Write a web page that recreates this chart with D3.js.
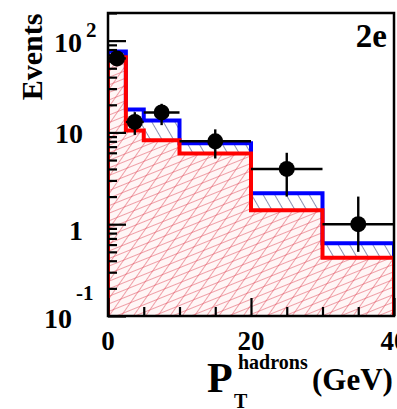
<!DOCTYPE html>
<html>
<head>
<meta charset="utf-8">
<script src="https://cdn.jsdelivr.net/npm/d3@7"></script>
<style>
  body { margin: 0; background: #fff; }
  text { font-family: "Liberation Serif", "DejaVu Serif", serif; font-weight: bold; fill: #000; }
</style>
</head>
<body>
<svg id="chart" width="397" height="409"></svg>
<script>
// bin edges in GeV
const binEdges = [0, 2.5, 5, 10, 20, 30, 40];
// total expectation (blue) and background (red)
const totalValues = [76, 17.8, 13.5, 7.6, 2.17, 0.62];
const backgroundValues = [66, 10.5, 8.2, 5.9, 1.42, 0.43];
// observed data
const dataValues = [64, 13, 16.5, 8, 4, 1];
const dataErrLow = [8, 3.6, 4.5, 2.8, 2, 0.5];
const dataErrHigh = [8, 3.6, 4, 2.8, 2, 1];
const xTicks = [0, 20, 40];

const svg = d3.select('#chart'),
  margin = {top: 13, right: 3, bottom: 93, left: 108},
  width = +svg.attr('width') - margin.left - margin.right,
  height = +svg.attr('height') - margin.top - margin.bottom;

const x = d3.scaleLinear().domain([0, 40]).range([margin.left, margin.left + width]),
  y = d3.scaleLog().domain([0.1, 200]).range([margin.top + height, margin.top]);
const bottom = margin.top + height;

const defs = svg.append('defs');
defs.append('clipPath').attr('id', 'plotclip')
  .append('rect').attr('x', margin.left).attr('y', margin.top).attr('width', width).attr('height', height);

function hatch(id, angle, spacing, color, sw) {
  const p = defs.append('pattern').attr('id', id)
    .attr('patternUnits', 'userSpaceOnUse')
    .attr('width', spacing).attr('height', spacing)
    .attr('patternTransform', 'rotate(' + angle + ')');
  p.append('line').attr('x1', 0).attr('y1', 0).attr('x2', 0).attr('y2', spacing)
    .attr('stroke', color).attr('stroke-width', sw);
}
hatch('redA', 68, 7, '#e04858', 1);
hatch('redB', 35, 10, '#e04858', 1);
hatch('blueH', -30, 10, '#4c5688', 1.3);

// step data: one point per bin plus the closing edge
function steps(vals) {
  const pts = vals.map((v, i) => ({e: binEdges[i], v: v}));
  pts.push({e: binEdges[binEdges.length - 1], v: vals[vals.length - 1]});
  return pts;
}
const bkg = steps(backgroundValues), tot = steps(totalValues);

const g = svg.append('g').attr('clip-path', 'url(#plotclip)');

const redArea = d3.area().curve(d3.curveStepAfter)
  .x(d => x(d.e)).y0(bottom).y1(d => y(d.v));
g.append('path').datum(bkg).attr('d', redArea).attr('fill', '#fff6f6');
g.append('path').datum(bkg).attr('d', redArea).attr('fill', 'url(#redA)');
g.append('path').datum(bkg).attr('d', redArea).attr('fill', 'url(#redB)');

const bandArea = d3.area().curve(d3.curveStepAfter)
  .x(d => x(d.e)).y0((d, i) => y(bkg[i].v)).y1(d => y(d.v));
g.append('path').datum(tot).attr('d', bandArea).attr('fill', 'url(#blueH)');

function outline(pts) {
  const full = [{e: pts[0].e, v: 0.01}].concat(pts);
  full.push({e: pts[pts.length - 1].e, v: 0.01});
  return full;
}
const stepLine = d3.line().curve(d3.curveStepAfter).x(d => x(d.e)).y(d => y(Math.max(d.v, 0.05)));
g.append('path').datum(outline(tot)).attr('d', stepLine)
  .attr('fill', 'none').attr('stroke', '#0000ff').attr('stroke-width', 4);
g.append('path').datum(outline(bkg)).attr('d', stepLine)
  .attr('fill', 'none').attr('stroke', '#ff0000').attr('stroke-width', 4);

// data points
const pts = dataValues.map((v, i) => ({
  lo: binEdges[i], hi: binEdges[i + 1], c: (binEdges[i] + binEdges[i + 1]) / 2,
  v: v, el: dataErrLow[i], eh: dataErrHigh[i]
}));
const dp = g.selectAll('.pt').data(pts).enter().append('g').attr('class', 'pt');
dp.append('line').attr('x1', d => x(d.lo)).attr('x2', d => x(d.hi))
  .attr('y1', d => y(d.v)).attr('y2', d => y(d.v))
  .attr('stroke', '#000').attr('stroke-width', 2.4);
dp.append('line').attr('x1', d => x(d.c)).attr('x2', d => x(d.c))
  .attr('y1', d => y(d.v + d.eh)).attr('y2', d => y(Math.max(d.v - d.el, 0.05)))
  .attr('stroke', '#000').attr('stroke-width', 2.4);
dp.append('circle').attr('cx', d => x(d.c)).attr('cy', d => y(d.v)).attr('r', 8).attr('fill', '#000');

// y axis ticks (inside)
const yTickVals = [];
[0.1, 1, 10, 100].forEach(dec => { for (let k = 1; k <= 9; k++) if (dec * k <= 200) yTickVals.push(dec * k); });
const isMajor = v => Math.abs(Math.log10(v) - Math.round(Math.log10(v))) < 1e-6;
const yAxis = svg.append('g').attr('transform', 'translate(' + margin.left + ',0)')
  .call(d3.axisRight(y).tickValues(yTickVals).tickFormat(''));
yAxis.select('.domain').remove();
yAxis.selectAll('.tick line').attr('x2', d => isMajor(d) ? 18 : 9)
  .attr('stroke', '#000').attr('stroke-width', 2.2);

// x axis ticks (inside)
const xAxis = svg.append('g').attr('transform', 'translate(0,' + bottom + ')')
  .call(d3.axisTop(x).tickValues(d3.range(0, 41, 5)).tickFormat(''));
xAxis.select('.domain').remove();
xAxis.selectAll('.tick line').attr('y2', d => d % 20 === 0 ? -18 : -9)
  .attr('stroke', '#000').attr('stroke-width', 2.2);

// frame
svg.append('rect').attr('x', margin.left).attr('y', margin.top).attr('width', width).attr('height', height)
  .attr('fill', 'none').attr('stroke', '#000').attr('stroke-width', 2.5);

// x tick labels
svg.selectAll('.xlab').data(xTicks).enter().append('text')
  .attr('x', d => x(d)).attr('y', 350).attr('text-anchor', 'middle')
  .style('font-size', '27px').text(d => d);

// y tick labels
function ylab(base, baseEnd, baseY, exp, expY) {
  svg.append('text').attr('x', baseEnd).attr('y', baseY).attr('text-anchor', 'end')
    .style('font-size', '28px').text(base);
  if (exp) svg.append('text').attr('x', baseEnd + 4).attr('y', expY)
    .style('font-size', '21px').text(exp);
}
ylab('10', 82, 52, '2', 37);
ylab('10', 83, 143);
ylab('1', 83, 240);
ylab('10', 72, 328, '-1', 300);

// axis titles
svg.append('text').attr('transform', 'translate(42,57) rotate(-90)').attr('text-anchor', 'middle')
  .style('font-size', '30px').text('Events');
svg.append('text').attr('x', 207).attr('y', 392).style('font-size', '42px').text('P');
svg.append('text').attr('x', 238).attr('y', 369).style('font-size', '20px').text('hadrons');
svg.append('text').attr('x', 234).attr('y', 408).style('font-size', '20px').text('T');
svg.append('text').attr('x', 312).attr('y', 390).style('font-size', '31px').text('(GeV)');

svg.append('text').attr('x', 387).attr('y', 47).attr('text-anchor', 'end')
  .style('font-size', '33px').text('2e');
</script>
</body>
</html>
